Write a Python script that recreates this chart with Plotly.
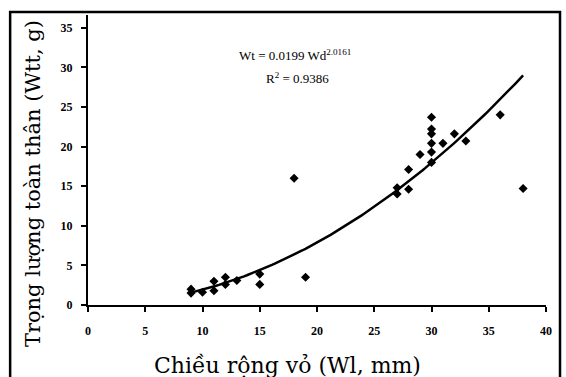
import numpy as np
import plotly.graph_objects as go

# Measured data: shell width (mm) vs total body weight (g)
width_mm = [9, 9, 10, 11, 11, 12, 12, 13, 15, 15, 18, 19,
            27, 27, 28, 28, 29, 30, 30, 30, 30, 30, 30, 31, 32, 33, 36, 38]
weight_g = [2.0, 1.5, 1.6, 3.0, 1.8, 3.5, 2.6, 3.1, 3.9, 2.6, 16.0, 3.5,
            14.8, 14.0, 17.1, 14.6, 19.0, 23.7, 22.2, 21.6, 20.4, 19.3, 18.0, 20.4, 21.6, 20.7, 24.0, 14.7]

x_ticks = [0, 5, 10, 15, 20, 25, 30, 35, 40]
y_ticks = [0, 5, 10, 15, 20, 25, 30, 35]

x_title = "Chiều rộng vỏ (Wl, mm)"
y_title = "Trọng lượng toàn thân (Wtt, g)"
eq_text = "Wt = 0.0199 Wd<sup>2.0161</sup>"
r2_text = "R<sup>2</sup> = 0.9386"

# Power trendline fitted to the data (log-log least squares, as in Excel)
lx = np.log(np.array(width_mm, dtype=float))
ly = np.log(np.array(weight_g, dtype=float))
b, ln_a = np.polyfit(lx, ly, 1)
xs = np.linspace(min(width_mm), max(width_mm), 120)
ys = np.exp(ln_a) * xs ** b

fig = go.Figure()
fig.add_trace(go.Scatter(x=xs, y=ys, mode="lines",
                         line=dict(color="black", width=2.5), hoverinfo="skip"))
fig.add_trace(go.Scatter(x=width_mm, y=weight_g, mode="markers",
                         marker=dict(symbol="diamond", size=7, color="black")))

fig.add_annotation(x=18.1, y=31.5, text=eq_text, showarrow=False,
                   xanchor="center", yanchor="middle",
                   font=dict(family="Liberation Serif", size=13, color="black"))
fig.add_annotation(x=18.3, y=28.6, text=r2_text, showarrow=False,
                   xanchor="center", yanchor="middle",
                   font=dict(family="Liberation Serif", size=13, color="black"))

# Axis titles
fig.add_annotation(xref="paper", yref="paper", x=0.4345, y=-0.207,
                   xanchor="center", yanchor="middle",
                   text=x_title, showarrow=False,
                   font=dict(family="DejaVu Serif", size=22, color="black"))
fig.add_annotation(xref="paper", yref="paper", x=-0.120, y=0.417,
                   xanchor="center", yanchor="middle",
                   text=y_title, showarrow=False, textangle=-90,
                   font=dict(family="DejaVu Serif", size=21, color="black"))

# Outer frame
fig.add_shape(type="rect", xref="paper", yref="paper",
              x0=-0.170, x1=1.0306, y0=-0.30, y1=1.0103,
              line=dict(color="black", width=2.5))

tick_font = dict(family="Liberation Serif", size=12, color="black", weight="bold")

fig.update_layout(
    width=566, height=377,
    margin=dict(l=88, r=20, t=15, b=72),
    paper_bgcolor="white", plot_bgcolor="white",
    showlegend=False,
    xaxis=dict(range=[0, 40], tickvals=x_ticks, showgrid=False, zeroline=False,
               automargin=False,
               showline=True, linecolor="black", linewidth=2,
               ticks="outside", ticklen=5, tickwidth=1.5, tickcolor="black",
               ticklabelstandoff=9, tickfont=tick_font),
    yaxis=dict(range=[0, 36.6], tickvals=y_ticks, showgrid=False, zeroline=False,
               automargin=False,
               showline=True, linecolor="black", linewidth=2,
               ticks="outside", ticklen=5, tickwidth=1.5, tickcolor="black",
               ticklabelstandoff=6, tickfont=tick_font),
)

fig.write_html("out.html")
